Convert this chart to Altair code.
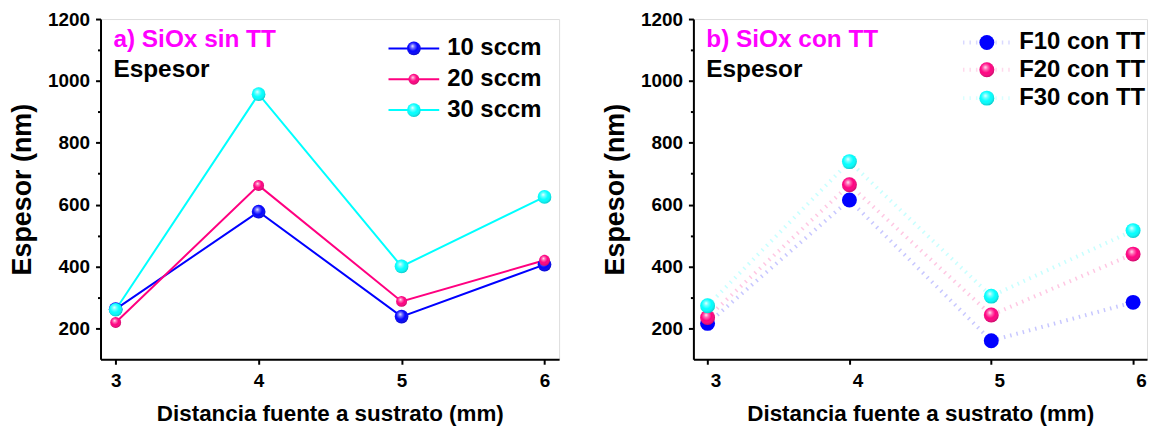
import altair as alt
import pandas as pd

# ---------------- data ----------------
distances = [3, 4, 5, 6]

series_a = ["10 sccm", "20 sccm", "30 sccm"]
a_10 = [262, 577, 238, 406]
a_20 = [219, 662, 287, 420]
a_30 = [260, 957, 400, 625]

series_b = ["F10 con TT", "F20 con TT", "F30 con TT"]
b_10 = [216, 615, 160, 284]
b_20 = [235, 664, 243, 440]
b_30 = [273, 739, 304, 516]

colors = ["#0000FF", "#FF0080", "#00FFFF"]
sizes_a = [190, 120, 190]
sizes_b = [225, 225, 225]
shine_a = [True, True, True]
shine_b = [False, True, True]

title_a = ["a) SiOx sin TT"]
title_b = ["b) SiOx con TT"]
subtitle = ["Espesor"]
x_title = "Distancia fuente a sustrato (mm)"
y_title = "Espesor (nm)"
x_tick_values = [3, 3.5, 4, 4.5, 5, 5.5, 6]
y_tick_values = [200, 300, 400, 500, 600, 700, 800, 900, 1000, 1100, 1200]

FONT = "Liberation Sans"


def long_df(names, values_list):
    rows = []
    for name, vals in zip(names, values_list):
        for d, v in zip(distances, vals):
            rows.append({"dist": d, "esp": v, "series": name})
    return pd.DataFrame(rows)


df_a = long_df(series_a, [a_10, a_20, a_30])
df_b = long_df(series_b, [b_10, b_20, b_30])

highlight = {
    "gradient": "radial",
    "x1": 0.4, "y1": 0.33, "r1": 0,
    "x2": 0.45, "y2": 0.42, "r2": 0.62,
    "stops": [
        {"offset": 0, "color": "rgba(255,255,255,0.95)"},
        {"offset": 0.22, "color": "rgba(255,255,255,0.45)"},
        {"offset": 0.55, "color": "rgba(255,255,255,0)"},
        {"offset": 1, "color": "rgba(0,0,0,0.28)"},
    ],
}


def x_axis(label_offset):
    return alt.Axis(
        values=x_tick_values, title=x_title, format="d",
        labelExpr="datum.value % 1 == 0 ? datum.label : ''",
        tickSize={"condition": {"test": "datum.value % 1 == 0", "value": 5}, "value": 3},
        labelOffset=label_offset, labelFlush=False, labelOverlap=False, grid=False,
        domainColor="black", domainWidth=2, tickColor="black", tickWidth=2,
        labelFont=FONT, labelFontSize=19, labelFontWeight="bold", labelColor="black",
        labelPadding=7, titleFont=FONT, titleFontSize=22.5, titleFontWeight="bold",
        titleColor="black", titlePadding=13,
    )


def y_axis():
    return alt.Axis(
        values=y_tick_values, title=y_title, format="d",
        labelExpr="datum.value % 200 == 0 ? datum.label : ''",
        tickSize={"condition": {"test": "datum.value % 200 == 0", "value": 5}, "value": 3},
        labelFlush=False, labelOverlap=False, grid=False,
        domainColor="black", domainWidth=2, tickColor="black", tickWidth=2,
        labelFont=FONT, labelFontSize=19, labelFontWeight="bold", labelColor="black",
        labelPadding=6, titleFont=FONT, titleFontSize=27, titleFontWeight="bold",
        titleColor="black", titlePadding=11,
    )


def x_enc(dom, label_offset):
    return alt.X("dist:Q", scale=alt.Scale(domain=dom, nice=False, zero=False), axis=x_axis(label_offset))


y_enc = alt.Y("esp:Q", scale=alt.Scale(domain=[100, 1200], nice=False, zero=False), axis=y_axis())


def annot(text_list, color, y):
    return alt.Chart(pd.DataFrame({"t": text_list})).mark_text(
        align="left", baseline="middle", font=FONT, fontSize=24.5, fontWeight="bold", color=color
    ).encode(x=alt.value(13), y=alt.value(y), text="t:N")


def point_layers(df, names, xenc, sizes, shines):
    layers = []
    for name, col, s, shine in zip(names, colors, sizes, shines):
        src = alt.Chart(df).transform_filter(alt.datum.series == name)
        layers.append(src.mark_point(filled=True, color=col, size=s, opacity=1).encode(x=xenc, y=y_enc))
        if shine:
            layers.append(src.mark_point(filled=True, fill=highlight, strokeWidth=0, size=s, opacity=1)
                          .encode(x=xenc, y=y_enc))
    return layers


def legend_layers(names, cx, ys, text_x, half_line, line_style, sizes, shines):
    layers = []
    for name, col, y, s, shine in zip(names, colors, ys, sizes, shines):
        src = alt.Chart(pd.DataFrame({"t": [name]}))
        layers.append(src.mark_rule(color=col, **line_style).encode(
            x=alt.value(cx - half_line), x2=alt.value(cx + half_line), y=alt.value(y)))
        layers.append(src.mark_point(filled=True, color=col, size=s, opacity=1).encode(
            x=alt.value(cx), y=alt.value(y)))
        if shine:
            layers.append(src.mark_point(filled=True, fill=highlight, strokeWidth=0, size=s, opacity=1).encode(
                x=alt.value(cx), y=alt.value(y)))
        layers.append(src.mark_text(
            align="left", baseline="middle", font=FONT, fontSize=24, fontWeight="bold", color="black"
        ).encode(x=alt.value(text_x), y=alt.value(y), text="t:N"))
    return layers


# ---------------- panel a ----------------
color_a = alt.Scale(domain=series_a, range=colors)
xa = x_enc([2.894, 6.102], 0)

line_a = alt.Chart(df_a).mark_line(strokeWidth=2).encode(
    x=xa, y=y_enc, color=alt.Color("series:N", scale=color_a, legend=None)
)
pts_a = point_layers(df_a, series_a, xa, sizes_a, shine_a)
leg_a = legend_layers(series_a, 315, [29.5, 60.5, 91.5], 348.5, 25.5,
                      {"strokeWidth": 2}, sizes_a, shine_a)
panel_a = alt.layer(
    line_a, *pts_a, annot(title_a, "#FF00FF", 21), annot(subtitle, "black", 51), *leg_a
).properties(width=461, height=342)

# ---------------- panel b ----------------
color_b = alt.Scale(domain=series_b, range=colors)
xb = x_enc([2.90, 6.098], 8)

line_b = alt.Chart(df_b).mark_line(strokeWidth=4, strokeDash=[1.5, 5], opacity=0.22).encode(
    x=xb, y=y_enc, color=alt.Color("series:N", scale=color_b, legend=None)
)
pts_b = point_layers(df_b, series_b, xb, sizes_b, shine_b)
leg_b = legend_layers(series_b, 295, [23.5, 51, 79.5], 327.5, 24,
                      {"strokeWidth": 4, "strokeDash": [1.5, 5], "opacity": 0.15},
                      sizes_b, shine_b)
panel_b = alt.layer(
    line_b, *pts_b, annot(title_b, "#FF00FF", 21), annot(subtitle, "black", 51), *leg_b
).properties(width=456, height=342)

chart = alt.hconcat(panel_a, panel_b, spacing=41).resolve_scale(
    color="independent", x="independent"
).properties(padding=0).configure_view(stroke="black", strokeWidth=2).configure(background="white")

chart.save("out.html", embed_options={"renderer": "svg", "actions": False})
